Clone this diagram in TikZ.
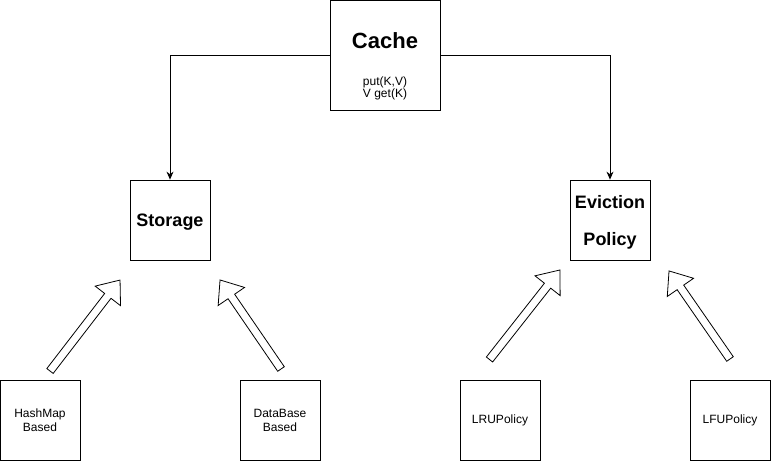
\documentclass[tikz,border=0pt]{standalone}
\usepackage{fontspec}
\setmainfont{Liberation Sans}
\usetikzlibrary{arrows.meta,positioning}

\tikzset{
  box/.style={draw, line width=0.8pt, minimum width=80pt, minimum height=80pt, inner sep=2pt, align=center, font=\fontsize{12}{14}\selectfont},
  bigbox/.style={box, minimum width=110pt, minimum height=110pt},
  title/.style={font=\fontsize{18}{37}\selectfont\bfseries, text depth=0pt},
  link/.style={line width=0.8pt, -{Stealth[length=8pt,width=7pt]}},
  pics/fatarrow/.style={code={
    \draw[line width=0.8pt, fill=white] (0,-4) -- ({#1-20},-4) -- ({#1-20},-16) -- (#1,0)
      -- ({#1-20},16) -- ({#1-20},4) -- (0,4) -- cycle;
  }}
}

\begin{document}
\begin{tikzpicture}[x=1pt,y=-1pt]

\useasboundingbox (0,0) rectangle (771,462);

\node[bigbox] (cache) at (385,55) {};
\node[align=center, font=\fontsize{12}{12}\selectfont] (cacheText) at (385,66)
  {{\fontsize{22}{26}\selectfont\bfseries Cache}\\[25pt] put(K,V)\\V get(K)};

\node[box, title] (storage) at (170,220) {Storage};
\node[box, title] (evict) at (610,220) {Eviction\\Policy};

\node[box] (hashmap) at (40,420) {HashMap\\Based};
\node[box] (database) at (280,420) {DataBase\\Based};
\node[box] (lru) at (500,420) {LRUPolicy};
\node[box] (lfu) at (730,420) {LFUPolicy};

\draw[link] (cache.west) -| (storage.north);
\draw[link] (cache.east) -| (evict.north);

% hollow arrows, tail points
\coordinate (hashTail) at (50,371);
\coordinate (dbTail) at (281,369);
\coordinate (lruTail) at (489.5,359.5);
\coordinate (lfuTail) at (730,359);

\pic[rotate=52.4] at (hashTail) {fatarrow=114.8};
\pic[rotate=124.4] at (dbTail) {fatarrow=107.9};
\pic[rotate=51.8] at (lruTail) {fatarrow=113.9};
\pic[rotate=124.7] at (lfuTail) {fatarrow=107.1};

\end{tikzpicture}
\end{document}
